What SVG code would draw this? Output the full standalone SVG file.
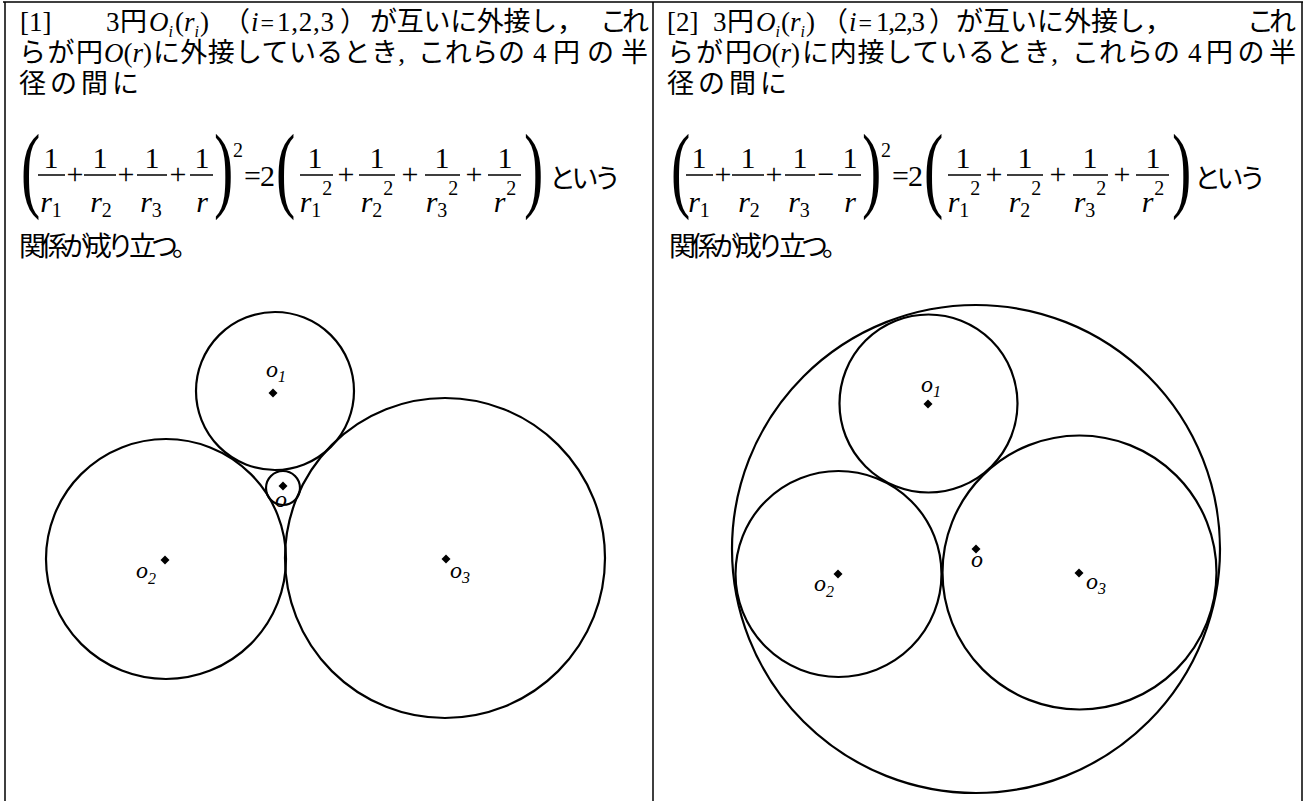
<svg xmlns="http://www.w3.org/2000/svg" width="1305" height="801" viewBox="0 0 1305 801">
<defs>
<style>
.t{font-family:"Liberation Serif","Noto Sans CJK JP",serif;font-size:27px;fill:#000}
.s{font-family:"Liberation Serif",serif;font-size:27px;fill:#000}
.i{font-style:italic}
.n{font-style:normal}
.m{font-family:"Liberation Serif",serif;font-size:30px;fill:#000}
.sm{font-size:20px}
.bp{font-family:"Liberation Serif",serif;font-size:58px;fill:#000}
.c{fill:none;stroke:#000;stroke-width:2.2}
.bar{stroke:#000;stroke-width:1.6}
.fr{stroke:#000;stroke-width:1.5;fill:none}
.lab{font-family:"Liberation Serif",serif;font-style:italic;font-size:24px;fill:#000}
.sub{font-size:16px}
</style>
<path id="dot" d="M0,-4.5 L4.5,0 L0,4.5 L-4.5,0 Z" fill="#000"/>
</defs>
<rect width="1305" height="801" fill="#fff"/>

<g id="frame">
<path class="fr" d="M3,2 H1303 M5,2 V801 M653,2 V801 M1302,2 V801"/>
</g>

<g id="text1">
<text class="s" x="20" y="31">[1]</text>
<text class="s" x="106" y="31">3</text>
<text class="t" x="120" y="31">円</text>
<text class="s i" x="149" y="31" font-size="28">O<tspan class="sub" dy="6">i</tspan><tspan class="n" dy="-6" dx="2">(</tspan>r<tspan class="sub" dy="6">i</tspan><tspan class="n" dy="-6" dx="1">)</tspan></text>
<text class="t" x="223" y="31">（</text>
<text class="s i" x="251" y="31" font-size="26">i<tspan class="n" font-size="24" dx="2">=</tspan></text>
<text class="s" x="277" y="31" font-size="26" textLength="57">1,2,3</text>
<text class="t" x="340" y="31">）</text>
<text class="t" x="370" y="31" textLength="214">が互いに外接し，</text>
<text class="t" x="600" y="31" textLength="49">これ</text>

<text class="t" x="19" y="62" textLength="84">らが円</text>
<text class="s i" x="104" y="62">O<tspan class="n">(</tspan>r<tspan class="n">)</tspan></text>
<text class="t" x="153" y="62" textLength="252">に外接しているとき,</text>
<text class="t" x="418" y="62" textLength="107">これらの</text>
<text class="s" x="533" y="62" font-size="26">4</text>
<text class="t" x="553" y="62" textLength="95">円の半</text>

<text class="t" x="19" y="93" textLength="120">径の間に</text>
<text class="t" x="19" y="256" font-size="25" textLength="180">関係が成り立つ。</text>
</g>

<g id="formula1">
<text class="bp" transform="translate(21,200) scale(1,1.65)">(</text>
<text class="m" x="51" y="168" text-anchor="middle">1</text>
<text class="m" x="100" y="168" text-anchor="middle">1</text>
<text class="m" x="152" y="168" text-anchor="middle">1</text>
<text class="m" x="202" y="168" text-anchor="middle">1</text>
<path class="bar" d="M38,175 H65 M84,175 H116 M137,175 H167 M190,175 H213"/>
<text class="m" x="51" y="212" text-anchor="middle"><tspan class="i">r</tspan><tspan class="sm" dy="5">1</tspan></text>
<text class="m" x="101" y="212" text-anchor="middle"><tspan class="i">r</tspan><tspan class="sm" dy="5">2</tspan></text>
<text class="m" x="151" y="212" text-anchor="middle"><tspan class="i">r</tspan><tspan class="sm" dy="5">3</tspan></text>
<text class="m" x="202" y="212" text-anchor="middle"><tspan class="i">r</tspan></text>
<text class="m" x="75" y="184" text-anchor="middle" font-size="26">+</text>
<text class="m" x="126" y="184" text-anchor="middle" font-size="26">+</text>
<text class="m" x="178" y="184" text-anchor="middle" font-size="26">+</text>
<text class="bp" transform="translate(214,200) scale(1,1.65)">)</text>
<text class="m sm" x="233" y="157">2</text>
<text class="m" x="244" y="186" font-size="27">=</text>
<text class="m" x="260" y="186">2</text>
<text class="bp" transform="translate(276,200) scale(1,1.65)">(</text>
<text class="m" x="315" y="168" text-anchor="middle">1</text>
<text class="m" x="377" y="168" text-anchor="middle">1</text>
<text class="m" x="442" y="168" text-anchor="middle">1</text>
<text class="m" x="505" y="168" text-anchor="middle">1</text>
<path class="bar" d="M300,175 H333 M359,175 H395 M425,175 H460 M488,175 H521"/>
<text class="m" x="316" y="212" text-anchor="middle"><tspan class="i">r</tspan><tspan class="sm" dy="5">1</tspan><tspan class="sm" dy="-22" dx="1">2</tspan></text>
<text class="m" x="377" y="212" text-anchor="middle"><tspan class="i">r</tspan><tspan class="sm" dy="5">2</tspan><tspan class="sm" dy="-22" dx="1">2</tspan></text>
<text class="m" x="442" y="212" text-anchor="middle"><tspan class="i">r</tspan><tspan class="sm" dy="5">3</tspan><tspan class="sm" dy="-22" dx="1">2</tspan></text>
<text class="m" x="505" y="212" text-anchor="middle"><tspan class="i">r</tspan><tspan class="sm" dy="-17" dx="1">2</tspan></text>
<text class="m" x="346" y="184" text-anchor="middle" font-size="26">+</text>
<text class="m" x="410" y="184" text-anchor="middle" font-size="26">+</text>
<text class="m" x="474" y="184" text-anchor="middle" font-size="26">+</text>
<text class="bp" transform="translate(524,200) scale(1,1.65)">)</text>
<text class="t" x="549" y="188" textLength="72">という</text>
</g>

<g id="text2">
<text class="s" x="667" y="31">[2]</text>
<text class="s" x="713" y="31">3</text>
<text class="t" x="727" y="31">円</text>
<text class="s i" x="756" y="31" font-size="28">O<tspan class="sub" dy="6">i</tspan><tspan class="n" dy="-6" dx="1">(</tspan>r<tspan class="sub" dy="6">i</tspan><tspan class="n" dy="-6" dx="1">)</tspan></text>
<text class="t" x="821" y="31">（</text>
<text class="s i" x="849" y="31" font-size="26">i<tspan class="n" font-size="24" dx="2">=</tspan></text>
<text class="s" x="876" y="31" font-size="26" textLength="49">1,2,3</text>
<text class="t" x="929" y="31">）</text>
<text class="t" x="956" y="31" textLength="216">が互いに外接し，</text>
<text class="t" x="1247" y="31" textLength="49">これ</text>

<text class="t" x="667" y="62" textLength="85">らが円</text>
<text class="s i" x="752" y="62">O<tspan class="n">(</tspan>r<tspan class="n">)</tspan></text>
<text class="t" x="802" y="62" textLength="256">に内接しているとき,</text>
<text class="t" x="1072" y="62" textLength="108">これらの</text>
<text class="s" x="1188" y="62" font-size="26">4</text>
<text class="t" x="1206" y="62" textLength="90">円の半</text>

<text class="t" x="667" y="93" textLength="120">径の間に</text>
<text class="t" x="669" y="256" font-size="25" textLength="180">関係が成り立つ。</text>
</g>

<g id="formula2" transform="translate(648,0)">
<text class="bp" transform="translate(23,200) scale(1,1.65)">(</text>
<text class="m" x="51" y="168" text-anchor="middle">1</text>
<text class="m" x="100" y="168" text-anchor="middle">1</text>
<text class="m" x="152" y="168" text-anchor="middle">1</text>
<text class="m" x="202" y="168" text-anchor="middle">1</text>
<path class="bar" d="M38,175 H65 M84,175 H116 M137,175 H167 M190,175 H213"/>
<text class="m" x="51" y="212" text-anchor="middle"><tspan class="i">r</tspan><tspan class="sm" dy="5">1</tspan></text>
<text class="m" x="101" y="212" text-anchor="middle"><tspan class="i">r</tspan><tspan class="sm" dy="5">2</tspan></text>
<text class="m" x="151" y="212" text-anchor="middle"><tspan class="i">r</tspan><tspan class="sm" dy="5">3</tspan></text>
<text class="m" x="202" y="212" text-anchor="middle"><tspan class="i">r</tspan></text>
<text class="m" x="75" y="184" text-anchor="middle" font-size="26">+</text>
<text class="m" x="126" y="184" text-anchor="middle" font-size="26">+</text>
<text class="m" x="178" y="184" text-anchor="middle" font-size="26">−</text>
<text class="bp" transform="translate(214,200) scale(1,1.65)">)</text>
<text class="m sm" x="233" y="157">2</text>
<text class="m" x="244" y="186" font-size="27">=</text>
<text class="m" x="260" y="186">2</text>
<text class="bp" transform="translate(276,200) scale(1,1.65)">(</text>
<text class="m" x="315" y="168" text-anchor="middle">1</text>
<text class="m" x="377" y="168" text-anchor="middle">1</text>
<text class="m" x="442" y="168" text-anchor="middle">1</text>
<text class="m" x="505" y="168" text-anchor="middle">1</text>
<path class="bar" d="M300,175 H333 M359,175 H395 M425,175 H460 M488,175 H521"/>
<text class="m" x="316" y="212" text-anchor="middle"><tspan class="i">r</tspan><tspan class="sm" dy="5">1</tspan><tspan class="sm" dy="-22" dx="1">2</tspan></text>
<text class="m" x="377" y="212" text-anchor="middle"><tspan class="i">r</tspan><tspan class="sm" dy="5">2</tspan><tspan class="sm" dy="-22" dx="1">2</tspan></text>
<text class="m" x="442" y="212" text-anchor="middle"><tspan class="i">r</tspan><tspan class="sm" dy="5">3</tspan><tspan class="sm" dy="-22" dx="1">2</tspan></text>
<text class="m" x="505" y="212" text-anchor="middle"><tspan class="i">r</tspan><tspan class="sm" dy="-17" dx="1">2</tspan></text>
<text class="m" x="346" y="184" text-anchor="middle" font-size="26">+</text>
<text class="m" x="410" y="184" text-anchor="middle" font-size="26">+</text>
<text class="m" x="474" y="184" text-anchor="middle" font-size="26">+</text>
<text class="bp" transform="translate(524,200) scale(1,1.65)">)</text>
<text class="t" x="546" y="188" textLength="72">という</text>
</g>

<g id="fig1">
<g id="c1-O1"><circle class="c" cx="275" cy="391" r="79"/><use href="#dot" x="273" y="393"/><text class="lab" x="266" y="377">o<tspan class="sub" dy="5">1</tspan></text></g>
<g id="c1-O2"><circle class="c" cx="166" cy="559" r="120"/><use href="#dot" x="165" y="560"/><text class="lab" x="136" y="578">o<tspan class="sub" dy="6">2</tspan></text></g>
<g id="c1-O3"><circle class="c" cx="445" cy="558" r="160"/><use href="#dot" x="446" y="559"/><text class="lab" x="450" y="578">o<tspan class="sub" dy="5">3</tspan></text></g>
<g id="c1-O"><circle class="c" cx="283" cy="488" r="17"/><use href="#dot" x="283" y="486"/><text class="lab" x="275" y="507" font-size="19">o</text></g>
</g>

<g id="fig2">
<g id="c2-O"><circle class="c" cx="976" cy="549" r="244"/><use href="#dot" x="976" y="549"/><text class="lab" x="971" y="567" font-size="19">o</text></g>
<g id="c2-O1"><circle class="c" cx="928.5" cy="403.5" r="89"/><use href="#dot" x="928" y="404"/><text class="lab" x="921" y="392">o<tspan class="sub" dy="5">1</tspan></text></g>
<g id="c2-O2"><circle class="c" cx="838.5" cy="574" r="103"/><use href="#dot" x="838" y="574"/><text class="lab" x="814" y="591">o<tspan class="sub" dy="6">2</tspan></text></g>
<g id="c2-O3"><circle class="c" cx="1079.5" cy="572.5" r="137"/><use href="#dot" x="1079" y="573"/><text class="lab" x="1086" y="589">o<tspan class="sub" dy="5">3</tspan></text></g>
</g>
</svg>
